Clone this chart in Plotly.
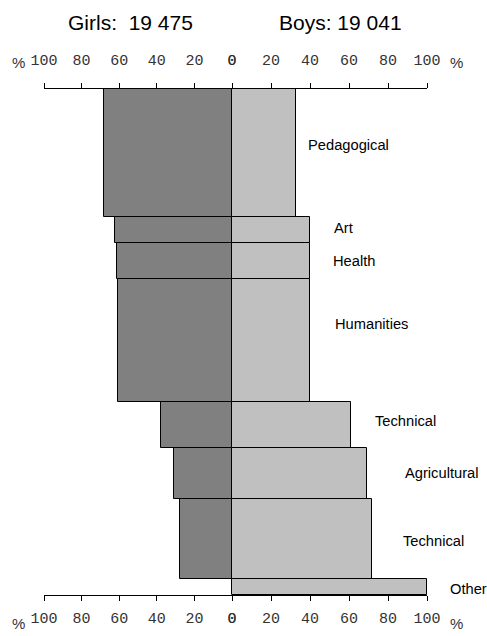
import plotly.graph_objects as go

# ---- data ----
fields = ["Pedagogical", "Art", "Health", "Humanities", "Technical",
          "Agricultural", "Technical", "Other"]
share = [25.2, 5.3, 7.1, 24.2, 9.0, 10.1, 15.9, 3.1]      # bar thickness (share of students, %)
girls = [68, 62.5, 61, 60.5, 38, 31, 27.5, 0]              # % girls
boys = [33, 40, 40, 40, 61, 69, 72, 100]                   # % boys
girls_total = "19 475"
boys_total = "19 041"
left_ticks = [100, 80, 60, 40, 20, 0]
right_ticks = [0, 20, 40, 60, 80, 100]

# ---- label style offsets (px) ----
lab_dx = [10, 22, 21, 23, 22, 36, 29, 21]
lab_dy = [8, 2, 0, 17, 4, 0, -2, -2]

# cumulative centres
centres = []
acc = 0
for s in share:
    centres.append(acc + s / 2)
    acc += s
total = acc

W, H = 487, 636
L, R, T, B = 44, 60, 89, 41  # screen-pixel plot-area edges
PW, PH = W - L - R, H - T - B
split = (232 - L) / PW

fig = go.Figure()
fig.add_trace(go.Bar(x=girls, y=centres, width=share, orientation="h",
                     xaxis="x", yaxis="y",
                     marker=dict(color="#808080", line=dict(color="#000000", width=1)),
                     showlegend=False, hoverinfo="skip"))
fig.add_trace(go.Bar(x=boys, y=centres, width=share, orientation="h",
                     xaxis="x2", yaxis="y",
                     marker=dict(color="#c0c0c0", line=dict(color="#000000", width=1)),
                     showlegend=False, hoverinfo="skip"))
# invisible traces to activate the top axes
fig.add_trace(go.Scatter(x=[50], y=[total / 2], xaxis="x3", yaxis="y", mode="markers",
                         marker=dict(opacity=0), showlegend=False, hoverinfo="skip"))
fig.add_trace(go.Scatter(x=[50], y=[total / 2], xaxis="x4", yaxis="y", mode="markers",
                         marker=dict(opacity=0), showlegend=False, hoverinfo="skip"))

tickfont = dict(family="Liberation Mono, Courier New, monospace", size=15, color="#333333")
common = dict(showline=True, linecolor="#000000", linewidth=1, ticks="outside",
              ticklen=5, tickcolor="#000000", tickwidth=1, showgrid=False,
              zeroline=False, tickfont=tickfont, fixedrange=True)

fig.update_layout(
    width=W, height=H,
    margin=dict(l=L, r=R, t=T, b=B, autoexpand=False),
    plot_bgcolor="white", paper_bgcolor="white",
    barmode="overlay", bargap=0,
    xaxis=dict(domain=[0, split], range=[100, 0], tickvals=left_ticks,
               anchor="y", side="bottom", ticklabelstandoff=4, **common),
    xaxis2=dict(domain=[split, 1], range=[0, 100], tickvals=right_ticks,
                anchor="y", side="bottom", ticklabelstandoff=4, **common),
    xaxis3=dict(overlaying="x", matches="x", tickvals=left_ticks,
                anchor="y", side="top", ticklabelstandoff=12, **common),
    xaxis4=dict(overlaying="x2", matches="x2", tickvals=right_ticks,
                anchor="y", side="top", ticklabelstandoff=12, **common),
    yaxis=dict(range=[total, 0], visible=False, fixedrange=True),
)


def px_x(px):
    return (px - L) / PW


def px_y(py):
    return 1 - (py - T) / PH


ann = []
for f, b, c, dx, dy in zip(fields, boys, centres, lab_dx, lab_dy):
    ann.append(dict(x=b, y=c, xref="x2", yref="y", text=f, showarrow=False,
                    xanchor="left", yanchor="middle", xshift=dx, yshift=dy,
                    font=dict(family="Liberation Sans, Arial, sans-serif", size=14.7, color="#000000")))

title_font = dict(family="Liberation Sans, Arial, sans-serif", size=21, color="#000000")
ann.append(dict(x=px_x(130), y=px_y(22), xref="paper", yref="paper",
                text="Girls:&nbsp;&nbsp;" + girls_total.replace(" ", "&nbsp;"),
                showarrow=False, xanchor="center", yanchor="middle", font=title_font))
ann.append(dict(x=px_x(340), y=px_y(22), xref="paper", yref="paper",
                text="Boys:&nbsp;" + boys_total.replace(" ", "&nbsp;"),
                showarrow=False, xanchor="center", yanchor="middle", font=title_font))

pct_font = dict(family="Liberation Sans, Arial, sans-serif", size=15, color="#333333")
for px, py in [(19, 62), (456, 62), (19, 623), (456, 623)]:
    ann.append(dict(x=px_x(px), y=px_y(py), xref="paper", yref="paper", text="%",
                    showarrow=False, xanchor="center", yanchor="middle", font=pct_font))

fig.update_layout(annotations=ann)
fig.write_html(
    "out.html",
    config={"displayModeBar": False},
    post_script="document.body.style.margin='0';document.body.style.overflow='hidden';",
)
